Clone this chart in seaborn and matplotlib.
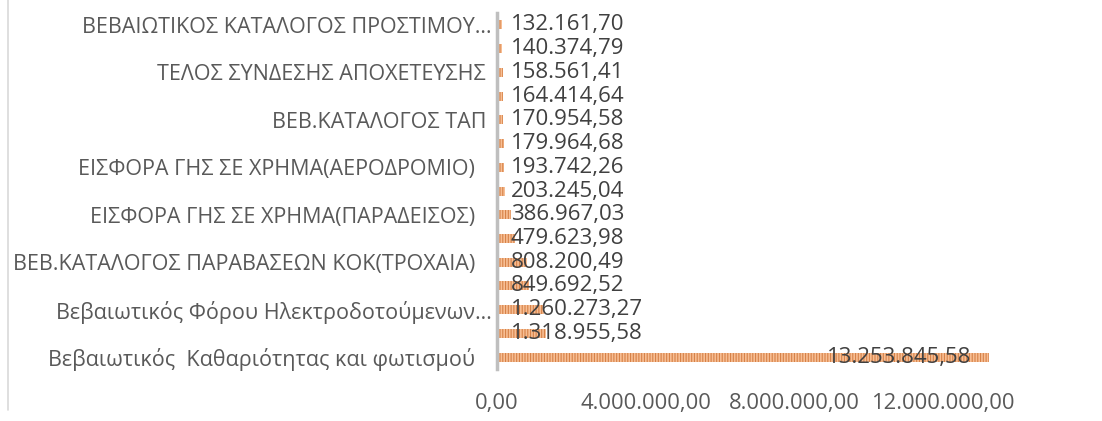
import pandas as pd
import seaborn as sns
import matplotlib.pyplot as plt
from matplotlib.lines import Line2D

# τιμές ανά κατηγορία (από πάνω προς τα κάτω)
values = [132161.70, 140374.79, 158561.41, 164414.64, 170954.58, 179964.68,
          193742.26, 203245.04, 386967.03, 479623.98, 808200.49, 849692.52,
          1260273.27, 1318955.58, 13253845.58]

# μόνο κάθε δεύτερη ετικέτα φαίνεται στον άξονα
tick_labels = ["ΒΕΒΑΙΩΤΙΚΟΣ ΚΑΤΑΛΟΓΟΣ ΠΡΟΣΤΙΜΟΥ…", "",
               "ΤΕΛΟΣ ΣΥΝΔΕΣΗΣ ΑΠΟΧΕΤΕΥΣΗΣ ", "",
               "ΒΕΒ.ΚΑΤΑΛΟΓΟΣ ΤΑΠ ", "",
               "ΕΙΣΦΟΡΑ ΓΗΣ ΣΕ ΧΡΗΜΑ(ΑΕΡΟΔΡΟΜΙΟ)   ", "",
               "ΕΙΣΦΟΡΑ ΓΗΣ ΣΕ ΧΡΗΜΑ(ΠΑΡΑΔΕΙΣΟΣ)   ", "",
               "ΒΕΒ.ΚΑΤΑΛΟΓΟΣ ΠΑΡΑΒΑΣΕΩΝ ΚΟΚ(ΤΡΟΧΑΙΑ)   ", "",
               "Βεβαιωτικός Φόρου Ηλεκτροδοτούμενων…", "",
               "Βεβαιωτικός  Καθαριότητας και φωτισμού   "]

x_ticks = [0, 4000000, 8000000, 12000000]


def gr_fmt(v):
    # 1234567.8 -> 1.234.567,80
    return f"{v:,.2f}".replace(",", "X").replace(".", ",").replace("X", ".")


df = pd.DataFrame({"idx": range(len(values)), "value": values})

sns.set_style("white")
plt.rcParams["font.family"] = ["Open Sans", "DejaVu Sans"]
plt.rcParams["hatch.linewidth"] = 1.2

fig = plt.figure(figsize=(11.02, 4.21), dpi=100)
ax = fig.add_axes([0.451, 0.1235, 0.539, 0.8455])

sns.barplot(data=df, x="value", y="idx", orient="h", color="#ED7D31",
            width=0.38, ax=ax, hatch="||||||", edgecolor="#F7BE94", linewidth=0)

ax.set_xlim(0, 16000000)
ax.set_xticks(x_ticks)
ax.set_xticklabels([gr_fmt(t) for t in x_ticks], fontsize=15.8, color="#595959")
ax.set_yticks(range(len(values)))
ax.set_yticklabels(tick_labels, fontsize=15.5, color="#595959")
ax.tick_params(axis="x", length=0, pad=17)
ax.tick_params(axis="y", length=0, pad=3.8)
ax.set_xlabel("")
ax.set_ylabel("")

for s in ["top", "right", "bottom"]:
    ax.spines[s].set_visible(False)
ax.spines["left"].set_color("#BFBFBF")
ax.spines["left"].set_linewidth(2.5)

# ετικέτες τιμών
for i, v in enumerate(values):
    if v > 5000000:
        ax.annotate(gr_fmt(v), (v, i), xytext=(-13, 0), textcoords="offset points",
                    ha="right", va="center", fontsize=16, color="#404040")
    else:
        ax.annotate(gr_fmt(v), (0, i), xytext=(10, 0), textcoords="offset points",
                    ha="left", va="center", fontsize=16, color="#404040")

# πλαίσιο γραφήματος αριστερά
fig.add_artist(Line2D([0.0075, 0.0075], [0.025, 1.0], transform=fig.transFigure,
                      color="#D9D9D9", linewidth=1.2))

fig.savefig("out.png", dpi=100)
